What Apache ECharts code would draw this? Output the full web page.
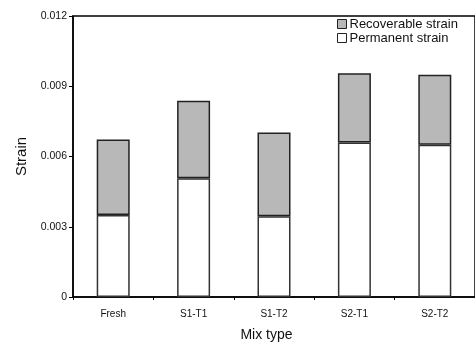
<!DOCTYPE html>
<html><head><meta charset="utf-8">
<script src="https://cdn.jsdelivr.net/npm/echarts@6/dist/echarts.min.js"></script>
<style>html,body{margin:0;padding:0;background:#fff}#c{width:475px;height:348px}</style>
</head><body><div id="c"></div>
<script>
var categories = ['Fresh', 'S1-T1', 'S1-T2', 'S2-T1', 'S2-T2'];
var permanent = [0.0035, 0.00507, 0.00345, 0.0066, 0.0065];
var total = [0.00673, 0.00838, 0.00703, 0.00955, 0.00949];
var recoverable = total.map(function (t, i) { return +(t - permanent[i]).toFixed(5); });
var yTicks = [0, 0.003, 0.006, 0.009, 0.012];

var chart = echarts.init(document.getElementById('c'), null, {renderer: 'canvas'});
var font = 'Arial, "Liberation Sans", sans-serif';
chart.setOption({
  animation: false,
  grid: {left: 73, top: 16, bottom: 51, right: -8, show: true, borderColor: '#000', borderWidth: 1.5, backgroundColor: 'transparent'},
  legend: {
    orient: 'vertical', left: 332, top: 12, itemWidth: 9, itemHeight: 9, itemGap: 0, icon: 'rect',
    textStyle: {fontFamily: font, fontSize: 13, lineHeight: 14, color: '#111', padding: [0, 0, 0, -2]},
    data: [{name: 'Recoverable strain', itemStyle: {color: '#b8b8b8', borderColor: '#222', borderWidth: 1}},
           {name: 'Permanent strain', itemStyle: {color: '#fff', borderColor: '#222', borderWidth: 1}}]
  },
  xAxis: {
    type: 'category', data: categories,
    name: 'Mix type', nameLocation: 'middle', nameGap: 31,
    nameTextStyle: {fontFamily: font, fontSize: 14, color: '#111', padding: [0, 0, 0, -15]},
    axisLine: {lineStyle: {color: '#000', width: 1.5}},
    axisTick: {show: true, length: 3, lineStyle: {color: '#000'}},
    axisLabel: {fontFamily: font, fontSize: 10, color: '#111', margin: 12}
  },
  yAxis: {
    type: 'value', min: 0, max: 0.012, interval: 0.003,
    name: 'Strain', nameLocation: 'middle', nameGap: 43,
    nameTextStyle: {fontFamily: font, fontSize: 15, color: '#111'},
    axisLine: {show: true, lineStyle: {color: '#000', width: 1.5}},
    axisTick: {show: true, length: 4, lineStyle: {color: '#000'}},
    splitLine: {show: false},
    axisLabel: {fontFamily: font, fontSize: 10.5, color: '#111', margin: 6,
      formatter: function (v) { return yTicks.indexOf(v) >= 0 ? (v === 0 ? '0' : v.toFixed(3)) : ''; }}
  },
  series: [
    {name: 'Permanent strain', type: 'bar', stack: 's', data: permanent, barWidth: 33,
     itemStyle: {color: '#fff', borderColor: '#333', borderWidth: 1.5}},
    {name: 'Recoverable strain', type: 'bar', stack: 's', data: recoverable, barWidth: 33,
     itemStyle: {color: '#b8b8b8', borderColor: '#222', borderWidth: 1.5}}
  ]
});
</script></body></html>
